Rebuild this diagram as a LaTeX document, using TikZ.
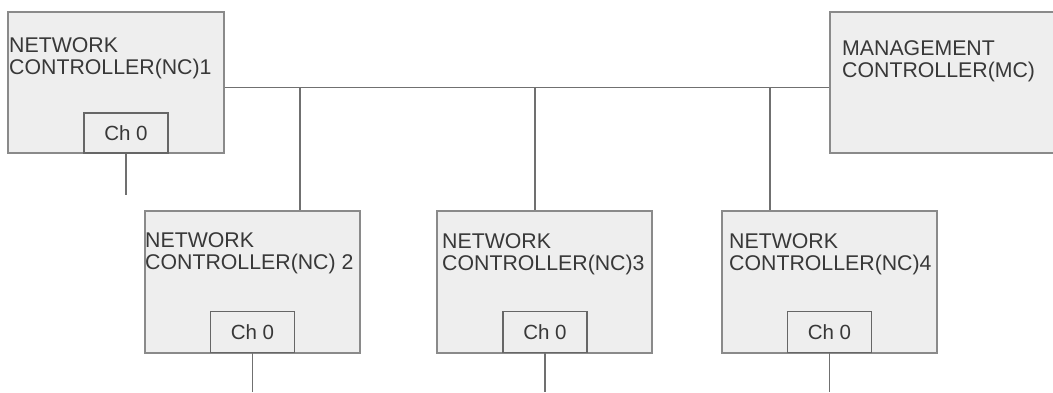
\documentclass[tikz,border=0pt]{standalone}
\usepackage{fontspec}
\setmainfont{Liberation Sans}
\definecolor{boxfill}{HTML}{EEEEEE}
\definecolor{boxline}{HTML}{8A8A8A}
\definecolor{wire}{HTML}{707070}
\definecolor{chline}{HTML}{666666}
\definecolor{txt}{HTML}{383838}
\begin{document}
\begin{tikzpicture}[x=1pt,y=-1pt,
  ctrlbox/.style={draw=boxline, fill=boxfill, line width=1.2pt, inner sep=0pt},
  chbox/.style={draw=chline, fill=boxfill, line width=1.3pt, inner sep=0pt, text=txt,
    font=\fontsize{20.5}{22}\selectfont},
  lbl/.style={anchor=north west, inner sep=0pt, align=left, text=txt,
    font=\fontsize{21.3}{22.5}\selectfont},
  wireline/.style={draw=wire, line width=1.3pt}]
\useasboundingbox (0,0) rectangle (1053,392);
\clip (0,0) rectangle (1053,392);
\fill[white] (0,0) rectangle (1053,392);
% boxes
\node[ctrlbox, minimum width=216pt, minimum height=141pt] (nc1) at (116,82.5) {};
\node[ctrlbox, minimum width=230pt, minimum height=141pt] (mc) at (945,82.5) {};
\node[ctrlbox, minimum width=215pt, minimum height=142pt] (nc2) at (252.5,282) {};
\node[ctrlbox, minimum width=215pt, minimum height=142pt] (nc3) at (544.5,282) {};
\node[ctrlbox, minimum width=215pt, minimum height=142pt] (nc4) at (829.5,282) {};
% channel boxes
\node[chbox, minimum width=84pt, minimum height=40pt] (ch1) at (126,133) {Ch 0};
\node[chbox, minimum width=84pt, minimum height=41pt] (ch2) at (252.5,332) {Ch 0};
\node[chbox, minimum width=84pt, minimum height=41pt] (ch3) at (545,332) {Ch 0};
\node[chbox, minimum width=84pt, minimum height=41pt] (ch4) at (829.5,332) {Ch 0};
% labels
\node[lbl] (t1) at (9,37) {NETWORK\\CONTROLLER(NC)1};
\node[lbl] (tm) at (842,40) {MANAGEMENT\\CONTROLLER(MC)};
\node[lbl] (t2) at (145,232) {NETWORK\\CONTROLLER(NC) 2};
\node[lbl] (t3) at (442,233) {NETWORK\\CONTROLLER(NC)3};
\node[lbl] (t4) at (729,233) {NETWORK\\CONTROLLER(NC)4};
% bus
\coordinate (j2) at (300,87.5);
\coordinate (j3) at (535,87.5);
\coordinate (j4) at (770,87.5);
\draw[wireline] (nc1.east |- j2) -- (mc.west |- j2);
\draw[wireline] (j2) -- (nc2.north -| j2);
\draw[wireline] (j3) -- (nc3.north -| j3);
\draw[wireline] (j4) -- (nc4.north -| j4);
% channel leads
\coordinate (e1) at (126,195);
\coordinate (e2) at (252.5,392);
\coordinate (e3) at (545,392);
\coordinate (e4) at (829.5,392);
\draw[wireline] (ch1.south) -- (e1);
\draw[wireline] (ch2.south) -- (e2);
\draw[wireline] (ch3.south) -- (e3);
\draw[wireline] (ch4.south) -- (e4);
\end{tikzpicture}
\end{document}
